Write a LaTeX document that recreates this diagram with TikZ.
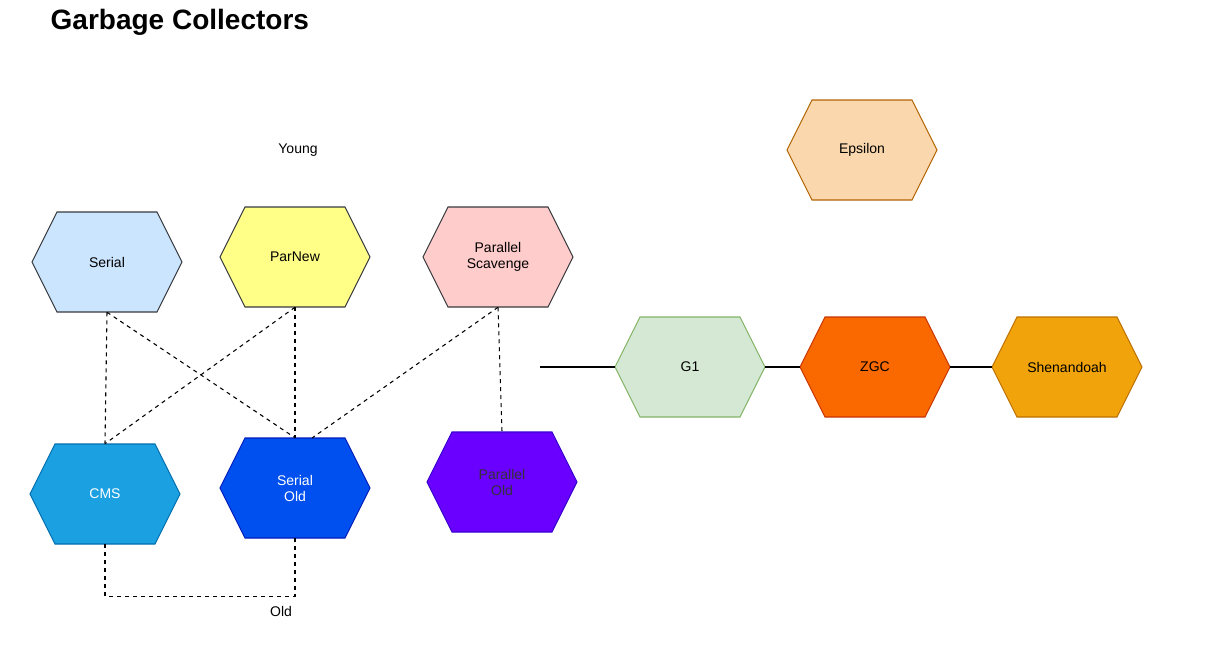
\documentclass[tikz,border=0pt]{standalone}
\usepackage{fontspec}
\setmainfont{Liberation Sans}
\begin{document}
\begin{tikzpicture}[x=0.75pt,y=-0.75pt,
  hex/.style={draw=none,minimum width=112.5pt,minimum height=75pt,inner sep=0pt,align=center,font=\fontsize{10.5}{12}\selectfont},
  dl/.style={dashed,line width=0.8pt},
  sl/.style={line width=0.8pt},
  lbl/.style={font=\fontsize{10.5}{12}\selectfont}]
\useasboundingbox (0,0) rectangle (1213,653);
\newcommand{\hexa}[5]{% name, x, y, fill, stroke, text
  \fill[#4,draw=#5,line width=0.8pt] (#2-75,#3) -- (#2-50,#3-50) -- (#2+50,#3-50) -- (#2+75,#3) -- (#2+50,#3+50) -- (#2-50,#3+50) -- cycle;}
\definecolor{cSerial}{HTML}{CCE5FF}\definecolor{cPN}{HTML}{FFFF88}\definecolor{cPS}{HTML}{FFCCCC}
\definecolor{cEps}{HTML}{FAD7AC}\definecolor{sEps}{HTML}{B46504}
\definecolor{cCMS}{HTML}{1BA1E2}\definecolor{sCMS}{HTML}{006EAF}
\definecolor{cSO}{HTML}{0050EF}\definecolor{sSO}{HTML}{001DBC}
\definecolor{cPO}{HTML}{6A00FF}\definecolor{sPO}{HTML}{3700CC}
\definecolor{cG1}{HTML}{D5E8D4}\definecolor{sG1}{HTML}{82B366}
\definecolor{cZ}{HTML}{FA6800}\definecolor{sZ}{HTML}{C73500}
\definecolor{cSh}{HTML}{F0A30A}\definecolor{sSh}{HTML}{BD7000}
\definecolor{sDef}{HTML}{36393D}
\hexa{}{107}{262}{cSerial}{sDef}
\hexa{}{295}{257}{cPN}{sDef}
\hexa{}{498}{257}{cPS}{sDef}
\hexa{}{862}{150}{cEps}{sEps}
\hexa{}{105}{494}{cCMS}{sCMS}
\hexa{}{295}{488}{cSO}{sSO}
\hexa{}{502}{482}{cPO}{sPO}
\hexa{}{690}{367}{cG1}{sG1}
\hexa{}{875}{367}{cZ}{sZ}
\hexa{}{1067}{367}{cSh}{sSh}
\node[hex] (serial) at (107,262) {Serial};
\node[hex] (parnew) at (295,257) {ParNew};
\node[hex] (ps) at (498,257) {Parallel\\Scavenge};
\node[hex] (eps) at (862,150) {Epsilon};
\node[hex,text=white] (cms) at (105,494) {CMS};
\node[hex,text=white] (so) at (295,488) {Serial\\Old};
\node[hex,text=black!80!white] (po) at (502,482) {Parallel\\Old};
\node[hex] (g1) at (690,367) {G1};
\node[hex] (zgc) at (875,367) {ZGC};
\node[hex] (shen) at (1067,367) {Shenandoah};
\node[anchor=west,font=\bfseries\fontsize{21}{24}\selectfont] (title) at (46,22) {Garbage Collectors};
\node[lbl] (young) at (298,150) {Young};
\node[lbl] (old) at (281,611) {Old};
\coordinate (g1in) at (540,367);
\coordinate (sotop) at (312,438);
\draw[dl] (serial.south) -- (cms.north);
\draw[dl] (serial.south) -- (so.north);
\draw[dl] (parnew.south) -- (cms.north);
\draw[dl] (parnew.south) -- (so.north);
\draw[dl] (ps.south) -- (sotop);
\draw[dl] (ps.south) -- (po.north);
\draw[dl] (cms.south) -- ++(0,52) -| (so.south);
\draw[sl] (g1in) -- (g1.west);
\draw[sl] (g1.east) -- (zgc.west);
\draw[sl] (zgc.east) -- (shen.west);
\end{tikzpicture}
\end{document}
